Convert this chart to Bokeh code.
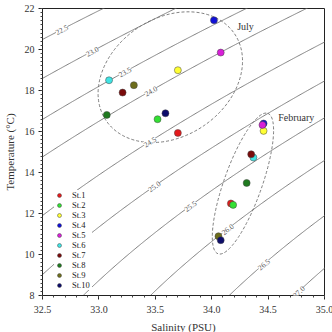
import numpy as np
from bokeh.plotting import figure
from bokeh.models import (FixedTicker, Label, Legend, LegendItem, Range1d,
                          CustomJSTickFormatter)
from bokeh.embed import file_html
from bokeh.resources import INLINE
from bokeh.core.properties import value

# ---- station data: (salinity PSU, temperature degC) ----
stations = ["St.1", "St.2", "St.3", "St.4", "St.5",
            "St.6", "St.7", "St.8", "St.9", "St.10"]
colors = ["#e41a1c", "#33e033", "#ffff33", "#1010d8", "#d81fd8",
          "#3fe3e3", "#7a0b0b", "#1f7a1f", "#6e6e1c", "#0c0c6a"]
jul_sal = [33.70, 33.52, 33.70, 34.02, 34.08, 33.09, 33.21, 33.07, 33.31, 33.59]
jul_temp = [15.93, 16.60, 18.99, 21.43, 19.85, 18.50, 17.90, 16.81, 18.26, 16.89]
feb_sal = [34.17, 34.19, 34.46, 34.46, 34.45, 34.37, 34.35, 34.31, 34.06, 34.08]
feb_temp = [12.49, 12.42, 16.03, 16.39, 16.32, 14.73, 14.89, 13.49, 10.89, 10.70]

# ---- isopycnals: nominal level, one point each line passes through,
#      and the salinity where its label sits ----
sigma_levels = [22.5, 23.0, 23.5, 24.0, 24.5, 25.0, 25.5, 26.0, 26.5, 27.0]
anchor_sal = [32.50, 32.50, 32.50, 32.50, 32.50, 32.50, 33.807, 34.137, 34.459, 34.772]
anchor_temp = [20.49, 18.59, 16.59, 14.76, 11.90, 9.02, 12.36, 11.23, 9.52, 8.20]
label_sal = [32.67, 32.94, 33.23, 33.46, 33.45, 33.49, 33.81, 34.14, 34.46, 34.77]

# ---- season groupings (dashed ellipses, screen-pixel sizes) ----
season_names = ["July", "February"]
season_text_sal = [34.30, 34.75]
season_text_temp = [21.14, 16.70]
ell_sal = [33.633, 34.277]
ell_temp = [18.65, 13.46]
ell_w = [155, 149]
ell_h = [118, 38]
ell_angle = [34, 70.5]

x_ticks = [32.5, 33.0, 33.5, 34.0, 34.5, 35.0]
y_ticks = [8, 10, 12, 14, 16, 18, 20, 22]

SERIF = "Liberation Serif"
FW, FH = 282, 287
X0, X1, Y0, Y1 = 32.5, 35.0, 8.0, 22.0


def sigma_t(S, T):
    """UNESCO EOS-80 density anomaly at the surface."""
    rho_w = (999.842594 + 6.793952e-2 * T - 9.095290e-3 * T**2
             + 1.001685e-4 * T**3 - 1.120083e-6 * T**4 + 6.536332e-9 * T**5)
    A = (0.824493 - 4.0899e-3 * T + 7.6438e-5 * T**2
         - 8.2467e-7 * T**3 + 5.3875e-9 * T**4)
    B = -5.72466e-3 + 1.0227e-4 * T - 1.6546e-6 * T**2
    return rho_w + A * S + B * S**1.5 + 4.8314e-4 * S**2 - 1000.0


def iso_temp(level, S):
    S = np.asarray(S, dtype=float)
    lo = np.full_like(S, -2.0)
    hi = np.full_like(S, 35.0)
    for _ in range(60):
        mid = 0.5 * (lo + hi)
        denser = sigma_t(S, mid) > level
        lo = np.where(denser, mid, lo)
        hi = np.where(denser, hi, mid)
    return 0.5 * (lo + hi)


p = figure(frame_width=FW, frame_height=FH,
           x_range=Range1d(X0, X1), y_range=Range1d(Y0, Y1),
           output_backend="svg", toolbar_location=None,
           min_border_left=37, min_border_right=13,
           min_border_top=8, min_border_bottom=37,
           background_fill_color="white", border_fill_color="white")
p.grid.visible = False
p.outline_line_color = "#222222"
p.outline_line_width = 1

# isopycnal lines, each following the density curve through its anchor
s_grid = np.linspace(32.3, 35.2, 300)
px_per_s = FW / (X1 - X0)
px_per_t = FH / (Y1 - Y0)
for lev, sa, ta, sl in zip(sigma_levels, anchor_sal, anchor_temp, label_sal):
    curve = float(sigma_t(sa, ta))
    p.line(s_grid, iso_temp(curve, s_grid), line_color="#808080", line_width=1)
    t = float(iso_temp(curve, [sl])[0])
    t1 = float(iso_temp(curve, [sl - 0.01])[0])
    t2 = float(iso_temp(curve, [sl + 0.01])[0])
    ang = np.arctan2((t2 - t1) * px_per_t, 0.02 * px_per_s)
    p.add_layout(Label(x=sl, y=t, text=f"{lev:.1f}", angle=float(ang),
                       text_align="center", text_baseline="middle",
                       text_font=SERIF, text_font_size="7.5px",
                       text_color="#555555",
                       background_fill_color="white"))

# dashed season ellipses
p.ellipse(x=ell_sal, y=ell_temp, width=ell_w, height=ell_h,
          angle=ell_angle, angle_units="deg",
          width_units="screen", height_units="screen",
          fill_color=None, line_color="#707070",
          line_dash="3 2", line_width=0.9)

# station points
items = []
for i, name in enumerate(stations):
    r = p.scatter(x=[jul_sal[i], feb_sal[i]], y=[jul_temp[i], feb_temp[i]],
                  size=7, fill_color=colors[i], line_color="#444444",
                  line_width=0.5)
    items.append(LegendItem(label=name, renderers=[r]))

for name, s, t in zip(season_names, season_text_sal, season_text_temp):
    p.text(x=[s], y=[t], text=[name], text_font=value(SERIF),
           text_font_size="10px", text_color="#333333",
           text_align="center", text_baseline="middle")

legend = Legend(items=items, location=(12, 5), padding=6, spacing=0,
                glyph_width=10, glyph_height=10, label_height=10,
                label_standoff=8, margin=0,
                label_text_font=SERIF, label_text_font_size="8.5px",
                label_text_color="#222222",
                background_fill_color="white", background_fill_alpha=1.0,
                border_line_color=None)
p.add_layout(legend)

# axes
p.xaxis.ticker = FixedTicker(ticks=x_ticks,
                             minor_ticks=list(np.round(np.arange(32.5, 35.01, 0.1), 2)))
p.yaxis.ticker = FixedTicker(ticks=y_ticks,
                             minor_ticks=list(np.round(np.arange(8, 22.01, 0.2), 2)))
p.xaxis.formatter = CustomJSTickFormatter(code="return tick.toFixed(1);")
p.xaxis.axis_label = "Salinity (PSU)"
p.yaxis.axis_label = "Temperature (°C)"
for ax in (p.xaxis, p.yaxis):
    ax.axis_line_color = "#222222"
    ax.major_tick_line_color = "#222222"
    ax.minor_tick_line_color = "#444444"
    ax.major_tick_out = 4
    ax.major_tick_in = 0
    ax.minor_tick_out = 2
    ax.minor_tick_in = 0
    ax.major_label_text_font = SERIF
    ax.major_label_text_font_size = "10px"
    ax.major_label_text_color = "#333333"
    ax.axis_label_text_font = SERIF
    ax.axis_label_text_font_size = "11px"
    ax.axis_label_text_font_style = "normal"
    ax.axis_label_text_color = "#333333"
p.xaxis.major_label_standoff = 6
p.xaxis.axis_label_standoff = 5
p.yaxis.major_label_standoff = 4
p.yaxis.axis_label_standoff = 6

open("out.html", "w").write(file_html(p, INLINE))
